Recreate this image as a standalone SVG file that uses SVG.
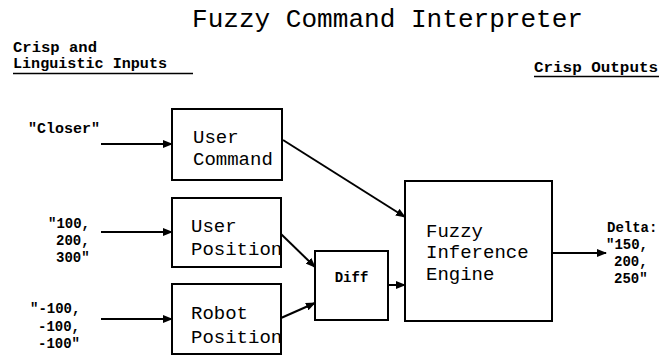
<svg xmlns="http://www.w3.org/2000/svg" width="668" height="355" viewBox="0 0 668 355">
<style>
.box{fill:#fff;stroke:#000;stroke-width:2}
.lbl{font-family:"Liberation Mono","Courier New",monospace;font-size:19px;fill:#000}
.in{font-family:"Liberation Mono","Courier New",monospace;font-size:14px;font-weight:bold;fill:#000}
.title{font-family:"Liberation Mono","Courier New",monospace;font-size:25px;fill:#000}
.conn{stroke:#000;stroke-width:2;fill:none;marker-end:url(#ah)}
.ul{stroke:#000;stroke-width:1.5}
</style>
<defs>
<marker id="ah" markerWidth="10" markerHeight="8" refX="9" refY="4" orient="auto" markerUnits="userSpaceOnUse">
<path d="M0,0 L10,4 L0,8 Z" fill="#000"/>
</marker>
<clipPath id="cUP"><rect x="172" y="198" width="109" height="69"/></clipPath>
<clipPath id="cRP"><rect x="172" y="284" width="109" height="70"/></clipPath>
</defs>
<text class="title" x="192" y="27" textLength="391" lengthAdjust="spacingAndGlyphs">Fuzzy Command Interpreter</text>
<g id="labels">
<text class="in" x="13" y="52" textLength="84" lengthAdjust="spacingAndGlyphs">Crisp and</text>
<text class="in" x="13" y="68" textLength="154" lengthAdjust="spacingAndGlyphs">Linguistic Inputs</text>
<line class="ul" x1="13" y1="73.5" x2="193" y2="73.5"/>
<text class="in" x="534" y="72" textLength="124" lengthAdjust="spacingAndGlyphs">Crisp Outputs</text>
<line class="ul" x1="534" y1="76.5" x2="659" y2="76.5"/>
<text class="in" x="28" y="133" textLength="72" lengthAdjust="spacingAndGlyphs">"Closer"</text>
<text class="in" x="48" y="228">"100,</text>
<text class="in" x="56" y="245">200,</text>
<text class="in" x="56" y="262">300"</text>
<text class="in" x="30" y="313">"-100,</text>
<text class="in" x="38" y="331">-100,</text>
<text class="in" x="38" y="348">-100"</text>
<text class="in" x="607" y="232">Delta:</text>
<text class="in" x="606" y="249">"150,</text>
<text class="in" x="614" y="266">200,</text>
<text class="in" x="614" y="283">250"</text>
</g>
<g id="connectors">
<line class="conn" x1="101" y1="144" x2="172" y2="144"/>
<line class="conn" x1="101" y1="232" x2="172" y2="232"/>
<line class="conn" x1="101" y1="319" x2="172" y2="319"/>
<line class="conn" x1="283" y1="140" x2="405" y2="217"/>
<line class="conn" x1="281" y1="234" x2="315" y2="267"/>
<line class="conn" x1="281" y1="318" x2="315" y2="303"/>
<line class="conn" x1="388" y1="285" x2="405" y2="285"/>
<line class="conn" x1="552" y1="253" x2="606" y2="253"/>
</g>
<g id="user-command">
<rect class="box" x="172" y="109" width="110" height="71"/>
<text class="lbl" x="193" y="143">User</text>
<text class="lbl" x="193" y="165">Command</text>
</g>
<g id="user-position">
<rect class="box" x="172" y="198" width="109" height="69"/>
<g clip-path="url(#cUP)">
<text class="lbl" x="191" y="232">User</text>
<text class="lbl" x="191" y="255">Position</text>
</g>
<rect x="172" y="198" width="109" height="69" fill="none" stroke="#000" stroke-width="2"/>
</g>
<g id="robot-position">
<rect class="box" x="172" y="284" width="109" height="70"/>
<g clip-path="url(#cRP)">
<text class="lbl" x="191" y="319">Robot</text>
<text class="lbl" x="191" y="343">Position</text>
</g>
<rect x="172" y="284" width="109" height="70" fill="none" stroke="#000" stroke-width="2"/>
</g>
<g id="diff">
<rect class="box" x="315" y="251" width="73" height="69"/>
<text class="in" x="351.5" y="282" text-anchor="middle">Diff</text>
</g>
<g id="fuzzy-inference-engine">
<rect class="box" x="405" y="181" width="147" height="140"/>
<text class="lbl" x="426" y="237">Fuzzy</text>
<text class="lbl" x="426" y="258">Inference</text>
<text class="lbl" x="426" y="280">Engine</text>
</g>
</svg>
